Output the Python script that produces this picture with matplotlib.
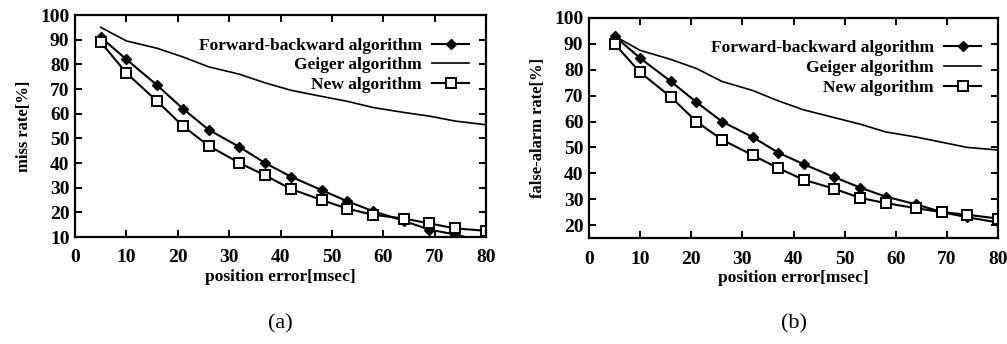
import matplotlib
matplotlib.use("Agg")
import matplotlib.pyplot as plt
from matplotlib import rcParams

rcParams.update({
    "font.family": "Liberation Serif",
    "font.weight": "bold",
    "axes.labelweight": "bold",
    "font.size": 11,
    "axes.linewidth": 1.6,
    "xtick.direction": "in",
    "ytick.direction": "in",
    "xtick.top": True,
    "ytick.right": True,
    "xtick.major.width": 1.4,
    "ytick.major.width": 1.4,
    "xtick.major.size": 5,
    "ytick.major.size": 5,
})

# position error [msec]
pos_err = [5, 10, 16, 21, 26, 32, 37, 42, 48, 53, 58, 64, 69, 74, 80]

# (a) miss rate [%]
miss_fb = [91, 82, 71.5, 62, 53.5, 46.5, 40, 34.5, 29, 24.5, 20.5, 16.5, 13, 11, 8]
miss_geiger = [95, 89.5, 86.5, 83, 79, 76, 72.5, 69.5, 67, 65, 62.5, 60.5, 59, 57, 55.5]
miss_new = [89, 76.5, 65, 55, 47, 40, 35, 29.5, 25, 21.5, 19, 17.5, 15.5, 13.5, 12.5]

# (b) false-alarm rate [%]
fa_fb = [93, 84.5, 75.5, 67.5, 60, 54, 48, 43.5, 38.5, 34.5, 31, 28, 25, 23, 21]
fa_geiger = [93, 87.5, 84, 80.5, 75.5, 72, 68, 64.5, 61.5, 59, 56, 54, 52, 50, 49]
fa_new = [90, 79, 69.5, 60, 53, 47, 42, 37.5, 34, 30.5, 28.5, 26.5, 25, 24, 22.5]

fig = plt.figure(figsize=(10.07, 3.44), dpi=100)
ax1 = fig.add_axes([75 / 1007, 1 - 237 / 344, 411 / 1007, 222 / 344])
ax2 = fig.add_axes([589 / 1007, 1 - 238 / 344, 409 / 1007, 220 / 344])


def draw(ax, fb, geiger, new, ylabel, ylim, yticks, tag):
    ax.plot(pos_err, fb, "-", color="black", lw=1.5, marker="D", ms=5,
            mfc="black", mec="black", label="Forward-backward algorithm")
    ax.plot(pos_err, geiger, "-", color="black", lw=1.2, label="Geiger algorithm")
    ax.plot(pos_err, new, "-", color="black", lw=1.5, marker="s", ms=7,
            mfc="white", mec="black", mew=1.4, label="New algorithm")
    ax.set_xlim(0, 80)
    ax.set_ylim(*ylim)
    ax.set_xticks(range(0, 81, 10))
    ax.set_yticks(yticks)
    ax.set_xlabel("position error[msec]", fontsize=12.5, labelpad=2)
    ax.set_ylabel(ylabel, fontsize=12, labelpad=6)
    ax.tick_params(axis="x", labelsize=14, pad=9)
    ax.tick_params(axis="y", labelsize=14, pad=4)
    ax.legend(loc="upper right", frameon=False, markerfirst=False,
              fontsize=12.5, handlelength=2.1, borderaxespad=0.0,
              labelspacing=0.2, handletextpad=0.6,
              bbox_to_anchor=(0.975, 0.93))
    ax.text(0.5, -0.39, tag, transform=ax.transAxes, ha="center",
            va="center", fontsize=16, fontweight="normal")


draw(ax1, miss_fb, miss_geiger, miss_new, "miss rate[%]", (10, 100),
     range(10, 101, 10), "(a)")
draw(ax2, fa_fb, fa_geiger, fa_new, "false-alarm rate[%]", (15, 100),
     range(20, 101, 10), "(b)")

fig.savefig("out.png", dpi=100)
